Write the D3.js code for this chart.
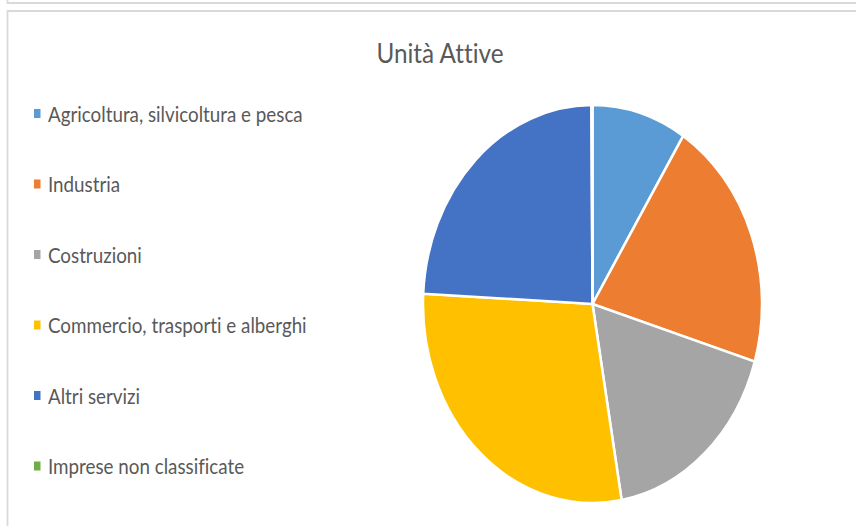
<!DOCTYPE html>
<html><head><meta charset="utf-8">
<script src="https://cdn.jsdelivr.net/npm/d3@7"></script>
<style>html,body{margin:0;padding:0;background:#fff;}svg{display:block;}text{font-variant-ligatures:none;font-feature-settings:"liga" 0;}</style>
</head><body>
<script>
const title = "Unità Attive";
const categories = ["Agricoltura, silvicoltura e pesca","Industria","Costruzioni","Commercio, trasporti e alberghi","Altri servizi","Imprese non classificate"];
const values = [9.0, 20.7, 17.6, 28.6, 24.1, 0.1];
const colors = ["#5B9BD5","#ED7D31","#A5A5A5","#FFC000","#4472C4","#70AD47"];

const W = 856, H = 526;
const svg = d3.select("body").append("svg").attr("width", W).attr("height", H);
const font = "Lato, 'Open Sans', sans-serif";

// frames
svg.append("path").attr("d", `M7.5,0 V3 H${W}`).attr("fill","none").attr("stroke","#d9d9d9").attr("stroke-width",1.8);
svg.append("path").attr("d", `M7.5,${H} V11 H${W}`).attr("fill","none").attr("stroke","#d9d9d9").attr("stroke-width",1.8);

// title
const t = svg.append("text").attr("x", 440).attr("y", 63).attr("text-anchor","middle")
  .attr("font-family", font).attr("font-size", 27).attr("fill", "#595959").text(title);
t.attr("textLength", 127).attr("lengthAdjust","spacingAndGlyphs");

// pie
const R = 199, sx = 169.5 / 199;
const pie = d3.pie().sort(null).value(d => d)(values);
const arc = d3.arc().innerRadius(0).outerRadius(R);
const g = svg.append("g").attr("transform", `translate(592.5,304) scale(${sx},1)`);
g.selectAll("path").data(pie).join("path")
  .attr("d", arc).attr("fill", (d,i) => colors[i])
  .attr("stroke", "#fff").attr("stroke-width", 2.5).attr("vector-effect","non-scaling-stroke");

// legend
const y = d3.scalePoint().domain(categories).range([113.5, 466]);
const lg = svg.append("g");
const items = lg.selectAll("g").data(categories).join("g").attr("transform", d => `translate(0,${y(d)})`);
items.append("rect").attr("x", 34).attr("y", -4.5).attr("width", 6.5).attr("height", 9).attr("fill", (d,i) => colors[i]);
const texts = items.append("text").attr("x", 0).attr("y", 0).attr("dy", 8)
  .attr("font-family", font).attr("font-size", 21).attr("fill", "#595959").text(d => d);
const natural = texts.nodes()[0].getComputedTextLength();
const k = 255 / natural;
texts.attr("transform", `translate(48,0) scale(${k},1)`);
</script>
</body></html>
